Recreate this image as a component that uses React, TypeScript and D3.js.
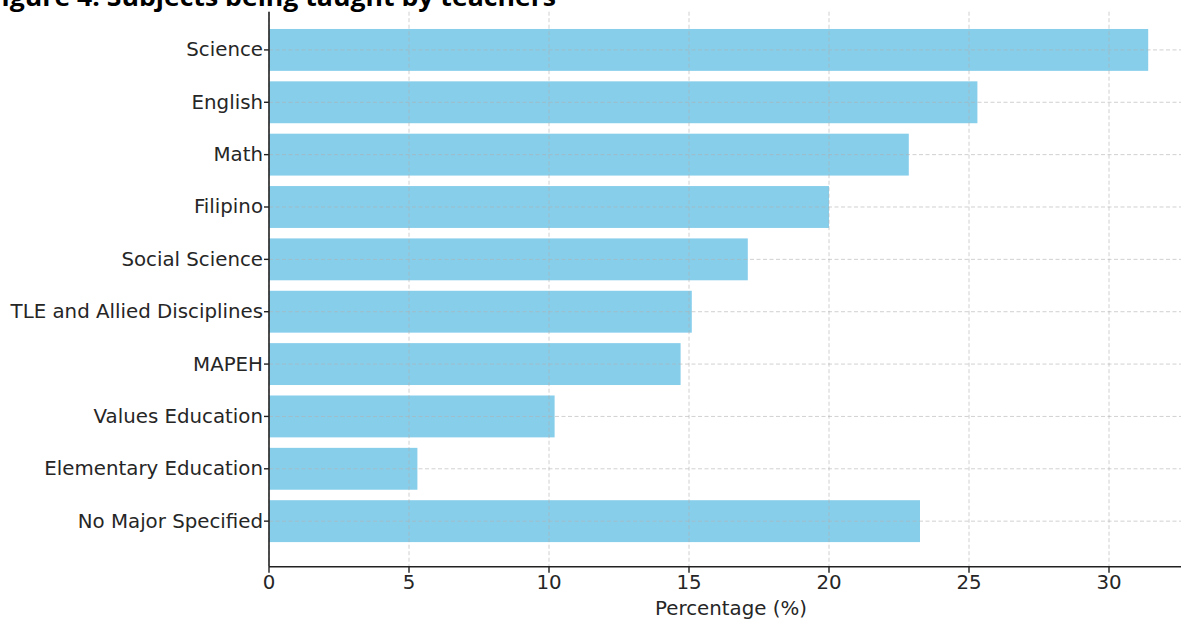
import React from "react";
import * as d3 from "d3";

const categories: string[] = [
  "Science",
  "English",
  "Math",
  "Filipino",
  "Social Science",
  "TLE and Allied Disciplines",
  "MAPEH",
  "Values Education",
  "Elementary Education",
  "No Major Specified",
];
const percentages: number[] = [31.4, 25.3, 22.85, 20.0, 17.1, 15.1, 14.7, 10.2, 5.3, 23.25];
const xTicks: number[] = [0, 5, 10, 15, 20, 25, 30];
const titleText = "Figure 4. Subjects being taught by teachers";
const xLabel = "Percentage (%)";

const W = 1181;
const H = 619;

export default function App() {
  const x = d3.scaleLinear().domain([0, 33]).range([269, 269 + 33 * 28]);
  const y = d3.scaleLinear().domain([-0.73, 9.87]).range([11.7, 566.7]);
  const band = y(1) - y(0);
  const barH = band * 0.8;
  const left = x(0);
  const top = y(-0.73);
  const bottom = y(9.87);
  const font = "DejaVu Sans, sans-serif";
  const fs = 19.8;

  return (
    <svg
      width={W}
      height={H}
      style={{ position: "absolute", left: 0, top: 0, background: "#fff" }}
    >
      <rect x={0} y={0} width={W} height={H} fill="#fff" />
      <text
        x={-13}
        y={5.5}
        textLength={569}
        lengthAdjust="spacingAndGlyphs"
        fontFamily="'Open Sans', 'Liberation Sans', sans-serif"
        fontWeight={700}
        fontSize={25}
        fill="#000"
      >
        {titleText}
      </text>
      {/* bars */}
      {percentages.map((v, i) => (
        <rect
          key={categories[i]}
          x={left}
          y={y(i) - barH / 2}
          width={x(v) - left}
          height={barH}
          fill="#87CEEB"
        />
      ))}
      {/* grid */}
      {xTicks.map((t) => (
        <line
          key={"gx" + t}
          x1={x(t)}
          x2={x(t)}
          y1={top}
          y2={bottom}
          stroke="#b0b0b0"
          strokeOpacity={0.6}
          strokeWidth={1}
          strokeDasharray="4,2.5"
        />
      ))}
      {categories.map((c, i) => (
        <line
          key={"gy" + c}
          x1={left}
          x2={W}
          y1={y(i)}
          y2={y(i)}
          stroke="#b0b0b0"
          strokeOpacity={0.6}
          strokeWidth={1}
          strokeDasharray="4,2.5"
        />
      ))}
      {/* spines */}
      <line x1={left} x2={left} y1={top} y2={bottom} stroke="#222" strokeWidth={1.6} />
      <line x1={left} x2={W} y1={bottom} y2={bottom} stroke="#222" strokeWidth={1.6} />
      {/* y ticks */}
      {categories.map((c, i) => (
        <g key={"yt" + c}>
          <line x1={left - 5} x2={left} y1={y(i)} y2={y(i)} stroke="#222" strokeWidth={1.4} />
          <text
            x={left - 6}
            y={y(i)}
            textAnchor="end"
            dominantBaseline="central"
            fontFamily={font}
            fontSize={fs}
            fill="#262626"
          >
            {c}
          </text>
        </g>
      ))}
      {/* x ticks */}
      {xTicks.map((t) => (
        <g key={"xt" + t}>
          <line x1={x(t)} x2={x(t)} y1={bottom} y2={bottom + 6} stroke="#222" strokeWidth={1.4} />
          <text
            x={x(t)}
            y={bottom + 22}
            textAnchor="middle"
            fontFamily={font}
            fontSize={fs}
            fill="#262626"
          >
            {t}
          </text>
        </g>
      ))}
      <text
        x={(left + W + 12) / 2}
        y={615}
        textAnchor="middle"
        fontFamily={font}
        fontSize={fs}
        fill="#262626"
      >
        {xLabel}
      </text>
    </svg>
  );
}
